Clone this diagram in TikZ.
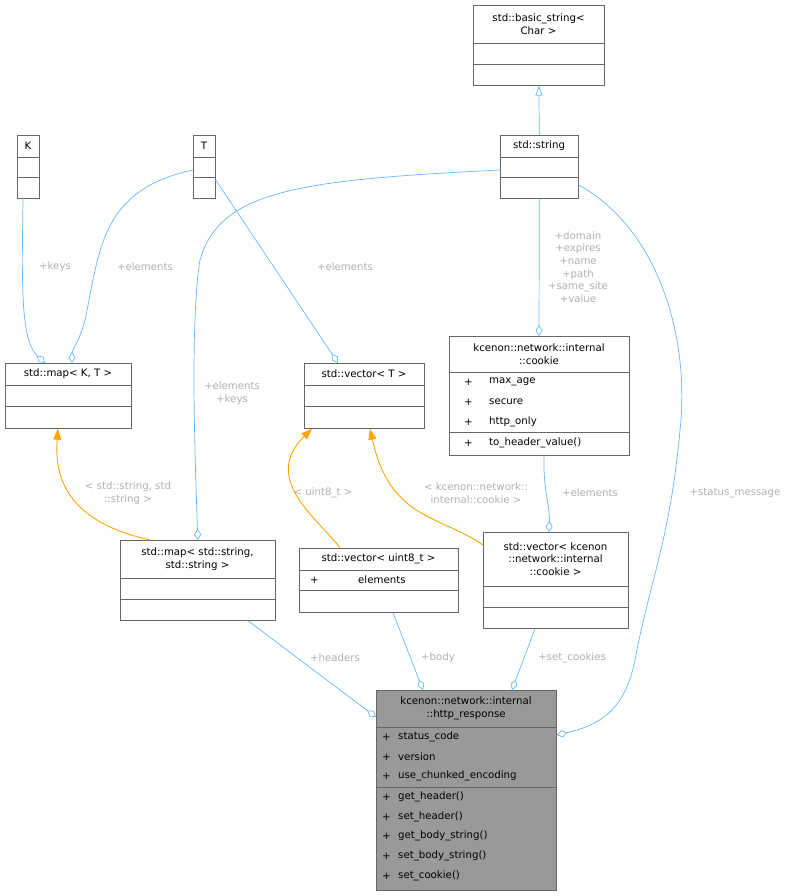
\documentclass[tikz,border=0pt]{standalone}
\usepackage{fontspec}
\setmainfont{DejaVu Sans}
\usetikzlibrary{arrows.meta}
\definecolor{eblue}{HTML}{63B8FF}
\definecolor{eorange}{HTML}{FFA500}
\definecolor{lgray}{HTML}{B0B0B0}
\definecolor{bgray}{HTML}{999999}
\definecolor{bline}{HTML}{666666}
\begin{document}
\begin{tikzpicture}[x=1pt,y=-1pt,
  box/.style={draw=bline,line width=0.7pt,anchor=north west,inner sep=0pt},
  sep/.style={draw=bline,line width=0.7pt},
  t/.style={font=\fontsize{10.2}{12.6}\selectfont,inner sep=0pt,align=center},
  tl/.style={t,anchor=west,align=left},
  lab/.style={font=\fontsize{10.2}{12.6}\selectfont,text=lgray,inner sep=0pt,align=center},
  assoc/.style={draw=eblue,line width=0.7pt,-{Diamond[open,length=11pt,width=7pt]}},
  inh/.style={draw=eblue,line width=0.7pt,-{Triangle[open,length=10pt,width=7pt]}},
  tmpl/.style={draw=eorange,line width=0.9pt,-{Triangle[length=11pt,width=8pt]}}]
\useasboundingbox (0,0) rectangle (799,896);
% boxes
\node[box,minimum width=131pt,minimum height=80pt] (bs) at (473,5) {};
\draw[sep] (473,43)--(604,43) (473,64)--(604,64);
\node[t] at (538.5,24) {std::basic\_string<\\Char >};

\node[box,minimum width=78pt,minimum height=63pt] (str) at (500,135) {};
\draw[sep] (500,157)--(578,157) (500,177)--(578,177);
\node[t] at (539,146) {std::string};

\node[box,minimum width=22pt,minimum height=63pt] (K) at (17,135) {};
\draw[sep] (17,157)--(39,157) (17,177)--(39,177);
\node[t] at (28,146) {K};

\node[box,minimum width=22pt,minimum height=63pt] (T) at (193,135) {};
\draw[sep] (193,157)--(215,157) (193,177)--(215,177);
\node[t] at (204,146) {T};

\node[box,minimum width=126pt,minimum height=65pt] (mkt) at (5,363) {};
\draw[sep] (5,385)--(131,385) (5,406)--(131,406);
\node[t] at (68,374) {std::map< K, T >};

\node[box,minimum width=120pt,minimum height=65pt] (vt) at (304,363) {};
\draw[sep] (304,385)--(424,385) (304,406)--(424,406);
\node[t] at (364,374) {std::vector< T >};

\node[box,minimum width=180pt,minimum height=119pt] (ck) at (449,336) {};
\draw[sep] (449,372)--(629,372) (449,432)--(629,432);
\node[t] at (539,354) {kcenon::network::internal\\::cookie};
\foreach \y/\s in {382/max\_age,402/secure,422/http\_only,443/to\_header\_value()}{
  \node[tl] at (464,\y) {+}; \node[tl] at (489,\y) {\s};}

\node[box,minimum width=155pt,minimum height=80pt] (mss) at (120,540) {};
\draw[sep] (120,578)--(275,578) (120,599)--(275,599);
\node[t] at (197.5,559) {std::map< std::string,\\std::string >};

\node[box,minimum width=159pt,minimum height=64pt] (vu) at (299,548) {};
\draw[sep] (299,570)--(458,570) (299,590)--(458,590);
\node[t] at (378.5,559) {std::vector< uint8\_t >};
\node[tl] at (310,580) {+}; \node[tl] at (358,580) {elements};

\node[box,minimum width=145pt,minimum height=96pt] (vc) at (483,532) {};
\draw[sep] (483,586)--(628,586) (483,607)--(628,607);
\node[t] at (555.5,559) {std::vector< kcenon\\::network::internal\\::cookie >};

\node[box,fill=bgray,minimum width=180pt,minimum height=200pt] (hr) at (376,690) {};
\draw[sep] (376,727)--(556,727) (376,787)--(556,787);
\node[t] at (466,708.5) {kcenon::network::internal\\::http\_response};
\foreach \y/\s in {737/status\_code,757/version,776/use\_chunked\_encoding,797/get\_header(),817/set\_header(),836/get\_body\_string(),856/set\_body\_string(),876/set\_cookie()}{
  \node[tl] at (382,\y) {+}; \node[tl] at (398,\y) {\s};}

% edges
\draw[inh] (str.north) -- (bs.south);
\draw[assoc] ([xshift=6pt]K.south west) .. controls (22,280) and (20,340) .. ([xshift=40pt]mkt.north west);
\node[lab] at (55,267) {+keys};
\draw[assoc] ([yshift=-35pt]T.north west) .. controls (100,190) and (100,250) .. (85,320) .. controls (78,345) and (72,350) .. ([xshift=67pt]mkt.north west);
\node[lab] at (145,267) {+elements};
\draw[assoc] ([yshift=-45pt]T.north east) -- ([xshift=34pt]vt.north west);
\node[lab] at (345,267) {+elements};
\draw[assoc] ([yshift=-35pt]str.north west) .. controls (300,180) and (220,190) .. (200,260) .. controls (190,320) and (195,460) .. (mss.north);
\node[lab] at (232,393) {+elements\\+keys};
\draw[assoc] (str.south) -- ([xshift=90pt]ck.north west);
\node[lab] at (578,267) {+domain\\+expires\\+name\\+path\\+same\_site\\+value};
\draw[assoc] ([yshift=-50pt]str.north east) .. controls (660,230) and (690,340) .. (680,430) .. controls (670,540) and (650,580) .. (635,660) .. controls (625,710) and (600,725) .. ([yshift=-45pt]hr.north east);
\node[lab] at (735,493) {+status\_message};
\draw[tmpl] ([xshift=30pt]mss.north west) .. controls (60,520) and (55,470) .. ([xshift=53pt]mkt.south west);
\node[lab] at (128,493) {< std::string, std\\::string >};
\draw[tmpl] ([xshift=41pt]vu.north west) .. controls (320,520) and (260,480) .. ([xshift=8pt]vt.south west);
\node[lab] at (323,493) {< uint8\_t >};
\draw[tmpl] ([yshift=-13pt]vc.north west) .. controls (440,515) and (390,520) .. ([xshift=66pt]vt.south west);
\node[lab] at (476,493) {< kcenon::network::\\internal::cookie >};
\draw[assoc] ([xshift=95pt]ck.south west) .. controls (543,490) and (550,505) .. ([xshift=66pt]vc.north west);
\node[lab] at (590,493) {+elements};
\draw[assoc] ([xshift=128pt]mss.south west) -- ([yshift=-27pt]hr.north west);
\node[lab] at (335,658) {+headers};
\draw[assoc] ([xshift=94pt]vu.south west) -- ([xshift=47pt]hr.north west);
\node[lab] at (438,658) {+body};
\draw[assoc] ([xshift=52pt]vc.south west) -- ([xshift=136pt]hr.north west);
\node[lab] at (572,658) {+set\_cookies};
\end{tikzpicture}
\end{document}
